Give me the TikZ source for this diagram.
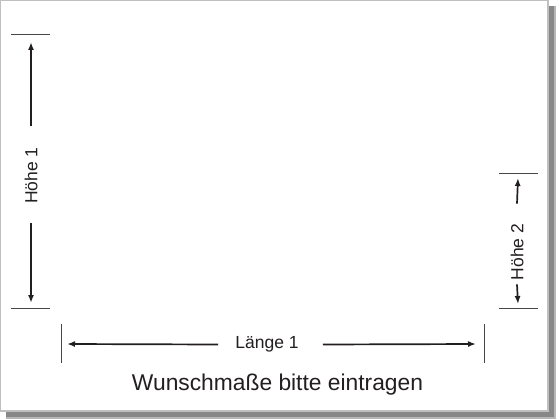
\documentclass[tikz,border=0pt]{standalone}
\usepackage{fontspec}
\setmainfont{Liberation Sans}
\usetikzlibrary{arrows.meta}
\definecolor{ColInk}{RGB}{35,31,32}
\definecolor{ColTick}{RGB}{70,70,70}
\definecolor{ColShadow}{RGB}{135,135,135}
\tikzstyle{Tick}=[ColTick,line width=0.9pt]
\tikzstyle{Dim}=[ColInk,line width=1.7pt,-{Latex[length=8pt,width=6pt]}]
\tikzstyle{Label}=[text=ColInk,inner sep=0pt,font=\fontsize{17.5}{20}\selectfont]
\tikzstyle{Caption}=[text=ColInk,inner sep=0pt,font=\fontsize{22.8}{26}\selectfont]

\begin{document}
\begin{tikzpicture}[x=1pt,y=-1pt]
        \useasboundingbox (0,0) rectangle (560,420);
        \fill[white] (0,0) rectangle (560,420);
        % card and its shadow
        \fill[ColShadow!60] (6,6) rectangle (556,419);
        \fill[ColShadow] (6,6) rectangle (554,417);
        \filldraw[draw=gray!50,fill=white,line width=1.2pt] (0.6,0.6) rectangle (548,411);
        % Hoehe 1
        \coordinate (h1t) at (31,34);
        \coordinate (h1b) at (31,308);
        \draw[Tick] (11,34) -- (50,34);
        \draw[Tick] (11,308) -- (50,308);
        \node[Label,rotate=90] (hoehe1) at (31,175.5) {Höhe 1};
        \draw[Dim] ([yshift=21pt]hoehe1.east) -- ([yshift=-8pt]h1t);
        \draw[Dim] ([yshift=-19pt]hoehe1.west) -- ([yshift=5pt]h1b);
        % Hoehe 2
        \coordinate (h2t) at (518,173);
        \coordinate (h2b) at (518,308);
        \draw[Tick] (499,173) -- (538,173);
        \draw[Tick] (499,308) -- (538,308);
        \node[Label,rotate=90] (hoehe2) at (517,252) {Höhe 2};
        \draw[Dim] ([yshift=20pt]hoehe2.east) -- ([yshift=-5pt]h2t);
        \draw[Dim] ([yshift=-4pt]hoehe2.west) -- ([yshift=4pt]h2b);
        % Laenge 1
        \coordinate (l1l) at (61,344);
        \coordinate (l1r) at (484,344);
        \draw[Tick] (61,324) -- (61,363);
        \draw[Tick] (484,324) -- (484,363);
        \node[Label] (laenge1) at (267,344.5) {Länge 1};
        \draw[Dim] ([xshift=-17pt]laenge1.west) -- ([xshift=6pt]l1l);
        \draw[Dim] ([xshift=24pt]laenge1.east) -- ([xshift=-8pt]l1r);
        % caption
        \node[Caption,anchor=base] (wunsch) at (277.5,390) {Wunschmaße bitte eintragen};
\end{tikzpicture}
\end{document}
